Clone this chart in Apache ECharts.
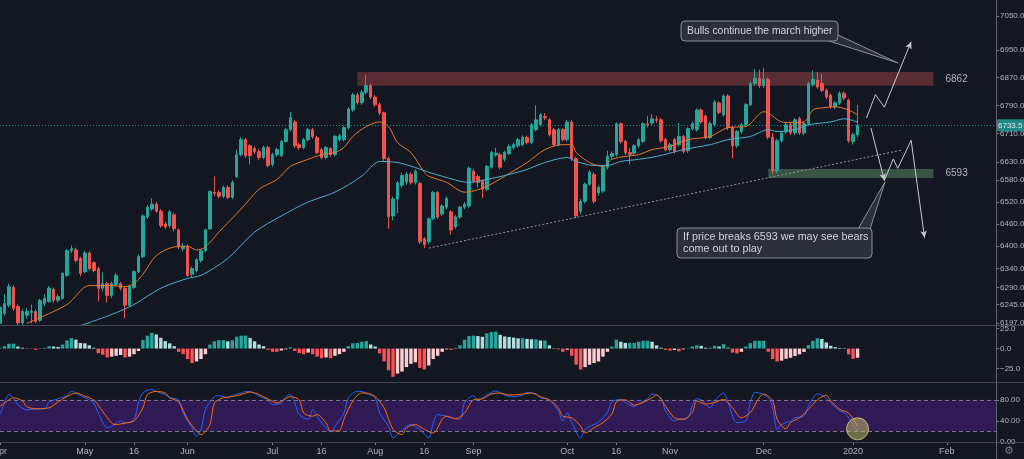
<!DOCTYPE html>
<html>
<head>
<meta charset="utf-8">
<title>ASX 200 daily</title>
<script src="https://cdn.jsdelivr.net/npm/echarts@6/dist/echarts.min.js"></script>
<style>
  html, body { margin: 0; padding: 0; background: #131722; }
  #chart { width: 1024px; height: 459px; }
</style>
</head>
<body>
<div id="chart"></div>
<script>
  // trading calendar, first bar 1 Apr 2019, runs on into Feb 2020 (empty space on the right)
  var startDate = "2019-04-01";
  var dayCount = 224;
  var holidays = ["2019-04-19", "2019-04-22", "2019-04-25", "2019-06-10",
    "2019-12-25", "2019-12-26", "2020-01-01", "2020-01-27"];

  var tickDates = ["2019-04-01", "2019-05-01", "2019-05-16", "2019-06-03", "2019-07-01",
    "2019-07-16", "2019-08-01", "2019-08-16", "2019-09-02", "2019-10-01", "2019-10-16",
    "2019-11-01", "2019-12-02", "2020-01-02", "2020-02-03"];
  var tickTexts = ["Apr", "May", "16", "Jun", "Jul", "16", "Aug", "16", "Sep", "Oct", "16",
    "Nov", "Dec", "2020", "Feb"];

  var priceTicks = [7050, 6950, 6870, 6790, 6710, 6630, 6580, 6520, 6460, 6400, 6340, 6290, 6245, 6197];
  var macdTicks = [25, 0, -25];
  var stochTicks = [0, 40, 80];

  // candles per month: [open, close, low, high]
  var apr = [
    [6196, 6238, 6190, 6246], [6222, 6248, 6216, 6272], [6243, 6292, 6238, 6300], [6290, 6235, 6228, 6296],
    [6240, 6197, 6190, 6246], [6197, 6227, 6192, 6232], [6217, 6227, 6208, 6236], [6224, 6228, 6196, 6245],
    [6227, 6201, 6196, 6232], [6204, 6256, 6200, 6260], [6248, 6261, 6242, 6272], [6253, 6288, 6250, 6294],
    [6285, 6256, 6250, 6290], [6256, 6266, 6250, 6272], [6261, 6327, 6258, 6330], [6322, 6388, 6318, 6392],
    [6388, 6393, 6382, 6402], [6390, 6362, 6356, 6396], [6367, 6327, 6320, 6372]
  ];
  var may = [
    [6332, 6382, 6328, 6388], [6382, 6340, 6335, 6386], [6356, 6335, 6330, 6360], [6340, 6288, 6253, 6345],
    [6288, 6300, 6280, 6330], [6300, 6269, 6250, 6305], [6269, 6300, 6262, 6305], [6298, 6322, 6292, 6328],
    [6300, 6288, 6282, 6305], [6288, 6243, 6209, 6292], [6243, 6293, 6238, 6298], [6290, 6332, 6286, 6336],
    [6332, 6372, 6328, 6378], [6372, 6482, 6368, 6486], [6479, 6506, 6474, 6512], [6501, 6514, 6496, 6530],
    [6514, 6495, 6490, 6520], [6495, 6455, 6450, 6500], [6460, 6452, 6446, 6466], [6455, 6493, 6450, 6498],
    [6485, 6447, 6440, 6490], [6444, 6398, 6392, 6448], [6393, 6400, 6386, 6408]
  ];
  var jun = [
    [6400, 6322, 6318, 6405], [6325, 6340, 6318, 6345], [6335, 6364, 6330, 6368], [6362, 6388, 6356, 6392],
    [6388, 6444, 6384, 6448], [6447, 6549, 6444, 6552], [6546, 6544, 6536, 6590], [6546, 6536, 6530, 6552],
    [6536, 6560, 6530, 6565], [6560, 6533, 6528, 6566], [6533, 6574, 6528, 6580], [6590, 6651, 6586, 6665],
    [6651, 6693, 6646, 6700], [6693, 6648, 6642, 6698], [6676, 6648, 6624, 6680], [6668, 6660, 6652, 6674],
    [6660, 6643, 6636, 6666], [6643, 6671, 6638, 6676], [6671, 6621, 6616, 6676]
  ];
  var jul = [
    [6624, 6651, 6618, 6656], [6651, 6665, 6645, 6670], [6648, 6688, 6644, 6692], [6688, 6721, 6684, 6726],
    [6721, 6755, 6716, 6772], [6743, 6676, 6670, 6748], [6679, 6671, 6664, 6684], [6671, 6693, 6666, 6698],
    [6693, 6721, 6688, 6726], [6721, 6702, 6696, 6726], [6699, 6657, 6652, 6704], [6665, 6643, 6638, 6670],
    [6643, 6671, 6638, 6676], [6668, 6651, 6645, 6672], [6651, 6702, 6646, 6706], [6693, 6704, 6688, 6710],
    [6693, 6727, 6688, 6732], [6727, 6780, 6722, 6785], [6777, 6820, 6772, 6826], [6820, 6798, 6792, 6826],
    [6798, 6828, 6792, 6834], [6828, 6847, 6822, 6877], [6847, 6814, 6808, 6852]
  ];
  var aug = [
    [6814, 6792, 6786, 6820], [6792, 6769, 6762, 6798], [6769, 6640, 6632, 6772], [6640, 6480, 6447, 6645],
    [6482, 6528, 6470, 6534], [6528, 6572, 6490, 6578], [6566, 6593, 6560, 6600], [6575, 6596, 6568, 6602],
    [6596, 6574, 6568, 6602], [6574, 6605, 6568, 6610], [6571, 6412, 6406, 6576], [6420, 6404, 6395, 6425],
    [6412, 6474, 6406, 6478], [6474, 6546, 6470, 6550], [6546, 6479, 6474, 6550], [6487, 6509, 6482, 6514],
    [6506, 6530, 6500, 6535], [6493, 6444, 6431, 6498], [6452, 6479, 6447, 6484], [6479, 6506, 6474, 6510],
    [6506, 6514, 6500, 6520], [6509, 6613, 6504, 6618]
  ];
  var sep = [
    [6605, 6577, 6572, 6612], [6590, 6574, 6560, 6596], [6577, 6555, 6531, 6582], [6555, 6618, 6550, 6622],
    [6616, 6657, 6612, 6662], [6650, 6655, 6645, 6670], [6651, 6616, 6610, 6656], [6638, 6657, 6632, 6662],
    [6654, 6674, 6650, 6680], [6671, 6679, 6665, 6685], [6676, 6693, 6670, 6698], [6679, 6699, 6674, 6705],
    [6699, 6685, 6680, 6704], [6685, 6735, 6680, 6740], [6721, 6749, 6716, 6790], [6735, 6763, 6730, 6768],
    [6758, 6755, 6748, 6768], [6749, 6707, 6702, 6754], [6721, 6679, 6674, 6726], [6679, 6721, 6674, 6726],
    [6721, 6693, 6688, 6726]
  ];
  var oct = [
    [6693, 6743, 6688, 6748], [6743, 6640, 6634, 6748], [6640, 6482, 6476, 6645], [6495, 6522, 6487, 6528],
    [6522, 6569, 6516, 6574], [6569, 6602, 6564, 6608], [6596, 6522, 6516, 6602], [6545, 6560, 6538, 6566],
    [6550, 6616, 6545, 6622], [6616, 6646, 6610, 6662], [6646, 6654, 6640, 6660], [6651, 6738, 6646, 6742],
    [6738, 6688, 6682, 6742], [6688, 6657, 6650, 6692], [6657, 6652, 6624, 6670], [6655, 6676, 6650, 6680],
    [6676, 6693, 6670, 6698], [6688, 6738, 6684, 6742], [6738, 6735, 6728, 6760], [6740, 6752, 6735, 6765],
    [6750, 6748, 6740, 6760], [6749, 6690, 6685, 6754], [6693, 6665, 6660, 6698]
  ];
  var nov = [
    [6665, 6679, 6660, 6684], [6693, 6660, 6654, 6698], [6679, 6702, 6674, 6740], [6702, 6660, 6654, 6706],
    [6662, 6724, 6656, 6728], [6724, 6738, 6718, 6744], [6721, 6777, 6716, 6782], [6777, 6743, 6738, 6782],
    [6760, 6699, 6694, 6764], [6699, 6738, 6694, 6744], [6735, 6800, 6730, 6806], [6797, 6770, 6765, 6802],
    [6763, 6817, 6758, 6822], [6817, 6727, 6720, 6822], [6727, 6676, 6640, 6732], [6676, 6716, 6670, 6720],
    [6716, 6735, 6710, 6740], [6735, 6792, 6730, 6797], [6792, 6853, 6788, 6858], [6853, 6868, 6846, 6895],
    [6868, 6847, 6840, 6893]
  ];
  var dec = [
    [6847, 6865, 6840, 6898], [6865, 6700, 6694, 6870], [6700, 6606, 6598, 6712], [6606, 6690, 6600, 6695],
    [6690, 6712, 6684, 6718], [6715, 6735, 6710, 6740], [6735, 6712, 6706, 6740], [6712, 6749, 6706, 6754],
    [6752, 6712, 6706, 6758], [6712, 6738, 6706, 6744], [6738, 6853, 6732, 6858], [6850, 6865, 6844, 6890],
    [6863, 6843, 6838, 6885], [6853, 6833, 6828, 6880], [6833, 6814, 6808, 6838], [6819, 6786, 6780, 6824],
    [6786, 6797, 6780, 6802], [6797, 6825, 6792, 6830], [6825, 6811, 6805, 6830], [6805, 6690, 6684, 6810]
  ];
  var jan = [
    [6688, 6707, 6679, 6712], [6707, 6733.5, 6700, 6792]
  ];
  var lastPrice = 6733.5;

  // moving averages: [bar index, value]
  var fastMa = [[6, 6196], [15, 6245], [20, 6295], [25, 6295], [28, 6292], [30, 6300], [32, 6325],
    [35, 6375], [39, 6398], [42, 6400], [44, 6390], [46, 6398], [49, 6438], [54, 6501], [58, 6555],
    [62, 6582], [65, 6618], [69, 6638], [72, 6651], [75, 6657], [77, 6671], [79, 6702], [82, 6730],
    [85, 6743], [87, 6730], [89, 6685], [92, 6657], [95, 6602], [96, 6591], [100, 6574], [104, 6547],
    [106, 6550], [109, 6563], [113, 6591], [118, 6629], [122, 6665], [126, 6679], [128, 6679],
    [129, 6657], [132, 6629], [135, 6618], [137, 6638], [140, 6646], [143, 6651], [146, 6665],
    [150, 6674], [154, 6693], [159, 6702], [163, 6727], [167, 6730], [171, 6772], [172, 6769],
    [175, 6743], [177, 6741], [180, 6743], [182, 6777], [184, 6783], [187, 6786], [190, 6777], [192, 6763]];
  var slowMa = [[18, 6190], [25, 6219], [30, 6245], [36, 6288], [42, 6314], [45, 6322], [51, 6367],
    [57, 6438], [63, 6482], [69, 6520], [75, 6547], [81, 6591], [85, 6632], [89, 6629], [93, 6615],
    [96, 6602], [99, 6591], [105, 6574], [109, 6582], [114, 6596], [118, 6610], [122, 6629],
    [127, 6643], [129, 6632], [133, 6621], [136, 6621], [139, 6632], [143, 6638], [147, 6646],
    [153, 6665], [159, 6679], [163, 6693], [168, 6702], [172, 6721], [174, 6716], [178, 6721],
    [181, 6735], [186, 6743], [189, 6752], [192, 6743]];

  // MACD histogram, one value per bar
  var macdHist = [
    1, 3, 6, 6, 2.5, 1, 0.3, 0.2, -1.5, -0.3,
    1, 3, 2.5, 2, 5, 10, 13, 11, 7, 6.5,
    4, 1, -5.7, -7.7, -11, -10, -9, -8, -11, -10,
    -7, -3, 10.5, 16, 19.5, 17.5, 13.4, 9.3, 6.5, 3,
    -4, -7, -13, -18, -16, -13, -7, 5, 9, 10.5,
    10.5, 9, 10.5, 14.6, 16, 16, 13, 9, 5, 3,
    -1.6, -4, -4, -2.4, -1, 1.6, -3, -5.7, -7, -5,
    -7, -10, -12, -11, -12, -9, -7, -4, 3, 6.5,
    7, 8.5, 9.3, 5, 2.5, -6, -16, -27, -35, -31,
    -28.5, -23, -19, -17, -24, -26, -21, -13, -9, -4,
    -1, -1.6, -0.5, 4, 11, 15.5, 16, 15.5, 14.6, 19,
    20.5, 21, 17, 15, 14.4, 13.6, 12.7, 12.7, 12, 11.5,
    11.5, 10, 10, 4, 0.5, -1, -4, -1.5, -9, -20,
    -26, -23, -20, -18, -16, -10, -4, 2.5, 11, 8.5,
    7, 7, 7, 8.5, 9.7, 9.7, 8.5, 4, 1, -1.7,
    -2.5, -1.7, -3.4, -1, 0.5, 2.5, 4, 3.4, 1, 1,
    3.4, 2.5, 5.5, 1, -5, -6, -4, 2.5, 6.8, 9.7,
    9.7, 9.7, -4, -13, -16, -15, -12.7, -11.4, -9.3, -7.2,
    -4.2, 4.2, 9.7, 12.7, 11.9, 7.6, 3.4, 1.7, 0.8, 0.5,
    -7.2, -12.7, -11.4
  ];

  // stochastic RSI lines: [bar index, value]
  var stochK = [[0, 52], [1, 74], [2, 90], [3, 84], [4, 71], [6, 61], [8, 63], [10, 63], [11, 76], [13, 82],
    [15, 88], [16, 96], [17, 93], [19, 84], [20, 80], [21, 74], [22, 55], [24, 27], [25, 30], [27, 40],
    [28, 36], [30, 43], [31, 74], [32, 93], [34, 100], [35, 96], [37, 90], [38, 84], [40, 80], [41, 55],
    [43, 27], [44, 11], [45, 24], [46, 62], [48, 86], [49, 88], [51, 84], [52, 88], [54, 93], [55, 96],
    [57, 93], [58, 87], [60, 80], [61, 71], [63, 74], [64, 86], [65, 90], [66, 74], [67, 52], [69, 43],
    [70, 61], [71, 49], [72, 36], [73, 27], [74, 19], [75, 30], [77, 55], [78, 84], [80, 96], [81, 96],
    [82, 92], [84, 84], [85, 55], [87, 30], [88, 8], [90, 22], [91, 30], [92, 33], [94, 24], [96, 8],
    [97, 36], [98, 52], [100, 49], [101, 46], [103, 43], [104, 74], [106, 88], [107, 80], [109, 89],
    [111, 97], [113, 89], [115, 86], [117, 89], [118, 94], [120, 91], [121, 84], [123, 80], [125, 59],
    [126, 40], [127, 55], [128, 37], [130, 8], [131, 24], [133, 33], [134, 38], [136, 56], [137, 76],
    [139, 81], [140, 75], [142, 67], [143, 72], [145, 82], [146, 91], [148, 84], [149, 59], [151, 40],
    [152, 43], [154, 46], [155, 68], [156, 82], [157, 80], [159, 65], [160, 78], [162, 93], [163, 75],
    [165, 37], [167, 40], [168, 75], [169, 94], [170, 93], [172, 84], [173, 65], [174, 24], [175, 33],
    [177, 40], [178, 46], [180, 49], [181, 68], [183, 91], [184, 89], [186, 75], [188, 59], [189, 56],
    [190, 46], [192, 21]];
  var stochD = [[0, 68], [2, 80], [3, 84], [5, 78], [6, 67], [8, 63], [11, 65], [13, 76], [15, 86], [17, 93],
    [19, 87], [21, 80], [23, 58], [25, 36], [26, 33], [28, 36], [30, 40], [32, 65], [33, 90], [35, 96],
    [37, 93], [38, 84], [40, 76], [42, 43], [44, 21], [45, 14], [47, 33], [48, 74], [50, 84], [52, 86],
    [54, 90], [56, 95], [58, 90], [60, 82], [62, 74], [63, 77], [65, 86], [67, 80], [68, 55], [70, 49],
    [71, 52], [73, 36], [74, 21], [76, 22], [77, 43], [79, 78], [81, 93], [82, 93], [84, 86], [86, 65],
    [88, 24], [90, 14], [91, 27], [93, 33], [95, 24], [97, 17], [99, 43], [100, 49], [102, 44], [104, 55],
    [106, 80], [108, 82], [110, 91], [112, 93], [114, 89], [117, 91], [119, 93], [121, 86], [123, 80],
    [125, 65], [126, 49], [128, 46], [130, 30], [131, 17], [133, 27], [135, 37], [137, 53], [138, 76],
    [140, 80], [142, 70], [144, 75], [146, 84], [147, 89], [149, 68], [151, 46], [153, 43], [155, 56],
    [156, 78], [158, 72], [160, 75], [162, 81], [164, 65], [166, 46], [168, 56], [170, 84], [171, 91],
    [173, 78], [174, 43], [176, 25], [177, 37], [179, 46], [181, 62], [183, 80], [185, 89], [186, 78],
    [188, 62], [190, 55], [192, 30]];

  // drawings on the price pane: [bar index, price]
  var resistZone = { from: 80, to: 209, low: 6846, high: 6886, label: "6862" };
  var supportZone = { from: 172, to: 209, low: 6586, high: 6611, label: "6593" };
  var trendLine = [[96, 6395], [202, 6664]];
  var bullPath = [[194, 6754], [196, 6821], [198, 6785], [204, 6974]];
  var bearPath = [[195, 6726], [198, 6579], [200, 6639], [201, 6613], [204, 6691], [207, 6423]];
  var stochMark = [192, 25];

  function buildDays() {
    var out = [];
    var d = new Date(startDate + "T00:00:00Z");
    while (out.length < dayCount) {
      var wd = d.getUTCDay();
      var s = d.toISOString().slice(0, 10);
      if (wd !== 0 && wd !== 6 && holidays.indexOf(s) < 0) out.push(s);
      d.setUTCDate(d.getUTCDate() + 1);
    }
    return out;
  }

  var days = buildDays();
  var candles = apr.concat(may, jun, jul, aug, sep, oct, nov, dec, jan);

  var UP = "#26a69a", DOWN = "#ef5350";
  var AXIS_TEXT = "#b2b5be";
  var FONT = "Liberation Sans";

  function isTick(index, value) {
    return tickDates.indexOf(value) >= 0;
  }

  function macdColor(i) {
    var v = macdHist[i];
    var prev = i > 0 ? macdHist[i - 1] : 0;
    if (v >= 0) return v >= prev ? "#26a69a" : "#b2dfdb";
    return v <= prev ? "#ff5252" : "#ffcdd2";
  }

  function pathSegments(path, arrowEnds) {
    var segs = [];
    for (var i = 0; i < path.length - 1; i++) {
      segs.push([
        { coord: path[i], symbol: "none" },
        { coord: path[i + 1], symbol: arrowEnds.indexOf(i) >= 0 ? "arrow" : "none", symbolSize: [5, 7] }
      ]);
    }
    return segs;
  }

  function logVal(v) {
    return v < 100 ? Math.pow(10, v) : v;
  }

  var chart = echarts.init(document.getElementById("chart"));

  var xAxes = [0, 1, 2].map(function (g) {
    return {
      type: "category",
      gridIndex: g,
      data: days,
      boundaryGap: false,
      axisLine: { show: false },
      splitLine: { show: false },
      axisTick: { show: g === 2, interval: isTick, length: 3, lineStyle: { color: "#787b86" } },
      axisLabel: {
        show: g === 2,
        interval: isTick,
        color: AXIS_TEXT,
        fontSize: 9,
        fontFamily: FONT,
        margin: 5,
        formatter: function (v) { return tickTexts[tickDates.indexOf(v)] || ""; }
      }
    };
  });

  var sideLabel = { color: AXIS_TEXT, fontSize: 8, fontFamily: FONT, margin: 4 };
  var sideTick = { show: true, length: 3, lineStyle: { color: "#787b86" } };

  var trendStyle = { color: "#9598a1", type: [2, 2], width: 1 };
  var trendSegs = [[
    { coord: trendLine[0], symbol: "none", lineStyle: trendStyle },
    { coord: trendLine[1], symbol: "none" }
  ]];

  function paneGrid(top, height) {
    return { left: 0, right: 28, top: top, height: height, containLabel: false, outerBoundsMode: "none" };
  }

  var option = {
    backgroundColor: "#131722",
    animation: false,
    textStyle: { fontFamily: FONT },
    grid: [paneGrid(0, 325), paneGrid(326, 56), paneGrid(383, 59)],
    xAxis: xAxes,
    yAxis: [
      {
        type: "log", logBase: 10, gridIndex: 0, position: "right",
        min: 6191.6, max: 7097.5,
        axisLine: { show: false }, splitLine: { show: false },
        axisTick: Object.assign({ customValues: priceTicks }, sideTick),
        axisLabel: Object.assign({
          customValues: priceTicks,
          formatter: function (v) { return logVal(v).toFixed(1); }
        }, sideLabel)
      },
      {
        type: "value", gridIndex: 1, position: "right", min: -41.5, max: 28,
        axisLine: { show: false }, splitLine: { show: false },
        axisTick: Object.assign({ customValues: macdTicks }, sideTick),
        axisLabel: Object.assign({
          customValues: macdTicks,
          formatter: function (v) { return (v < 0 ? "\u2212" + (-v).toFixed(1) : v.toFixed(1)); }
        }, sideLabel)
      },
      {
        type: "value", gridIndex: 2, position: "right", min: 0, max: 112,
        axisLine: { show: false }, splitLine: { show: false },
        axisTick: Object.assign({ customValues: stochTicks }, sideTick),
        axisLabel: Object.assign({
          customValues: stochTicks,
          formatter: function (v) { return v.toFixed(2); }
        }, sideLabel)
      }
    ],
    series: [
      {
        name: "price", type: "candlestick", xAxisIndex: 0, yAxisIndex: 0,
        data: candles, barWidth: 3,
        itemStyle: { color: UP, color0: DOWN, borderColor: UP, borderColor0: DOWN, borderWidth: 1 },
        markArea: {
          silent: true,
          label: { show: true, position: "right", distance: 12, color: AXIS_TEXT, fontSize: 10, fontFamily: FONT },
          data: [
            [
              { name: resistZone.label, xAxis: days[resistZone.from], yAxis: resistZone.high,
                itemStyle: { color: "rgba(200, 80, 80, 0.38)" } },
              { xAxis: days[resistZone.to], yAxis: resistZone.low }
            ],
            [
              { name: supportZone.label, xAxis: days[supportZone.from], yAxis: supportZone.high,
                itemStyle: { color: "rgba(110, 170, 120, 0.42)" } },
              { xAxis: days[supportZone.to], yAxis: supportZone.low }
            ]
          ]
        },
        markLine: {
          silent: true, symbol: "none",
          lineStyle: { color: UP, type: [1, 2], width: 1, opacity: 0.8 },
          label: {
            show: true, position: "end", distance: 0, formatter: String(lastPrice),
            backgroundColor: UP, color: "#ffffff", fontSize: 8, fontFamily: FONT, padding: [2, 2, 2, 2]
          },
          data: [{ yAxis: lastPrice }]
        }
      },
      {
        name: "fast", type: "line", xAxisIndex: 0, yAxisIndex: 0,
        data: fastMa, showSymbol: false, smooth: 0.3,
        lineStyle: { color: "#e8792c", width: 1 }
      },
      {
        name: "slow", type: "line", xAxisIndex: 0, yAxisIndex: 0,
        data: slowMa, showSymbol: false, smooth: 0.3,
        lineStyle: { color: "#4fb0cc", width: 1 },
        markLine: {
          silent: true, symbol: "none", animation: false,
          label: { show: false },
          lineStyle: { color: "#c8cad0", type: "solid", width: 1 },
          data: trendSegs
            .concat(pathSegments(bullPath, [2]))
            .concat(pathSegments(bearPath, [0, 4]))
        }
      },
      {
        name: "macd", type: "bar", xAxisIndex: 1, yAxisIndex: 1, barWidth: 3.4,
        data: macdHist.map(function (v, i) {
          return { value: v, itemStyle: { color: macdColor(i) } };
        })
      },
      {
        name: "K", type: "line", xAxisIndex: 2, yAxisIndex: 2,
        data: stochK, showSymbol: false, smooth: 0.3,
        lineStyle: { color: "#2962ff", width: 1 },
        markArea: {
          silent: true,
          itemStyle: { color: "#301a56" },
          data: [[{ xAxis: days[0], yAxis: 20 }, { xAxis: days[dayCount - 1], yAxis: 80 }]]
        },
        markLine: {
          silent: true, symbol: "none", label: { show: false },
          lineStyle: { color: "#787b86", type: [4, 3], width: 1 },
          data: [{ yAxis: 20 }, { yAxis: 80 }]
        },
        markPoint: {
          silent: true,
          label: { show: false },
          data: [{
            coord: stochMark, symbol: "circle", symbolSize: 22,
            itemStyle: { color: "rgba(190, 180, 100, 0.55)", borderColor: "rgba(220, 210, 140, 0.8)", borderWidth: 1 }
          }]
        }
      },
      {
        name: "D", type: "line", xAxisIndex: 2, yAxisIndex: 2,
        data: stochD, showSymbol: false, smooth: 0.3,
        lineStyle: { color: "#ff6d00", width: 1 }
      }
    ],
    graphic: [
      // pane separators and price-scale border
      { type: "line", shape: { x1: 0, y1: 325.5, x2: 1024, y2: 325.5 }, style: { stroke: "#434651", lineWidth: 1 }, z: 50 },
      { type: "line", shape: { x1: 0, y1: 382.5, x2: 1024, y2: 382.5 }, style: { stroke: "#434651", lineWidth: 1 }, z: 50 },
      { type: "line", shape: { x1: 0, y1: 442.5, x2: 1024, y2: 442.5 }, style: { stroke: "#434651", lineWidth: 1 }, z: 50 },
      { type: "line", shape: { x1: 996.5, y1: 0, x2: 996.5, y2: 459 }, style: { stroke: "#5d606b", lineWidth: 1 }, z: 50 },
      // callout: bulls
      { type: "polygon", shape: { points: [[826, 40], [838, 35], [898, 63]] },
        style: { fill: "#2a2f3a", stroke: "#8c919c", lineWidth: 1 }, z: 60 },
      { type: "rect", shape: { x: 681, y: 21, width: 157, height: 20, r: 4 },
        style: { fill: "#2a2f3a", stroke: "#8c919c", lineWidth: 1 }, z: 61 },
      { type: "text", x: 687, y: 31, z: 62,
        style: { text: "Bulls continue the march higher", fill: "#d1d4dc", font: "10.4px 'Liberation Sans'", verticalAlign: "middle" } },
      // callout: bears
      { type: "polygon", shape: { points: [[858, 229], [870, 229], [885, 182]] },
        style: { fill: "#2a2f3a", stroke: "#8c919c", lineWidth: 1 }, z: 60 },
      { type: "rect", shape: { x: 677, y: 228, width: 195, height: 30, r: 4 },
        style: { fill: "#2a2f3a", stroke: "#8c919c", lineWidth: 1 }, z: 61 },
      { type: "text", x: 683, y: 231, z: 62,
        style: { text: "If price breaks 6593 we may see bears\ncome out to play", fill: "#d1d4dc",
          font: "10.8px 'Liberation Sans'", lineHeight: 12, verticalAlign: "top" } },
      // settings glyph
      { type: "text", x: 1004, y: 446, z: 62,
        style: { text: "\u2699", fill: "#787b86", font: "11px 'DejaVu Sans'" } }
    ]
  };

  chart.setOption(option);
</script>
</body>
</html>
